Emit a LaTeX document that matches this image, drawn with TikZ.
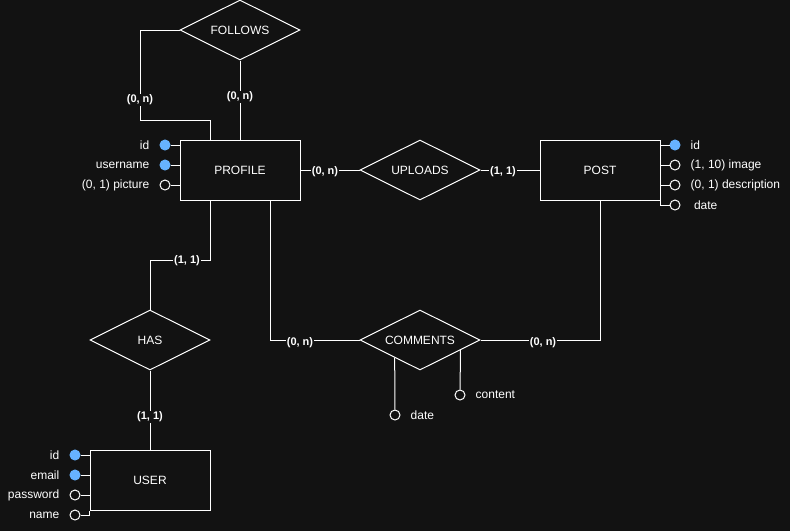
\documentclass[tikz,border=0pt]{standalone}
\usepackage{fontspec}
\setmainfont{Liberation Sans}
\usetikzlibrary{shapes.geometric,calc}
\definecolor{bg}{HTML}{121212}
\definecolor{fg}{HTML}{FFFFFF}
\definecolor{ln}{HTML}{FFFFFF}
\definecolor{pk}{HTML}{66B2FF}
\newcommand{\zw}[1]{\makebox[0pt]{#1}}
\begin{document}
\begin{tikzpicture}[x=1pt,y=-1pt,
  every node/.style={font=\fontsize{12}{14}\selectfont, text=fg},
  entity/.style={draw=ln, line width=1pt, fill=bg, minimum width=120pt, minimum height=60pt, inner sep=0pt},
  rel/.style={diamond, draw=ln, line width=1pt, fill=bg, minimum width=120pt, minimum height=60pt, inner sep=0pt},
  conn/.style={draw=ln, line width=1pt},
  card/.style={fill=bg, font=\bfseries\fontsize{11}{13}\selectfont, inner sep=1pt},
  key/.style={circle, fill=pk, draw=pk, line width=1pt, minimum size=10pt, inner sep=0pt},
  attr/.style={circle, fill=bg, draw=ln, line width=1pt, minimum size=10pt, inner sep=0pt},
  lt/.style={label={[label distance=10pt, inner sep=0pt]left:{#1}}},
  rt/.style={label={[label distance=10pt, inner sep=0pt]right:{#1}}}
]
\fill[bg] (0,0) rectangle (790,531);
\useasboundingbox (0,0) rectangle (790,531);

\coordinate (fk1) at (140,120);
\coordinate (hk1) at (150,260);

% entities and relations
\node[rel] (follows) at (240,30) {\zw{FOLLOWS}};
\node[entity] (profile) at (240,170) {PROFILE};
\node[rel] (uploads) at (420,170) {\zw{UPLOADS}};
\node[entity] (post) at (600,170) {POST};
\node[rel] (has) at (150,340) {\zw{HAS}};
\node[rel] (comments) at (420,340) {\zw{COMMENTS}};
\node[entity] (user) at (150,480) {USER};

% attributes
\node[key, lt=id] (p1) at (165,145) {};
\node[key, lt=username] (p2) at (165,165) {};
\node[attr, lt={(0, 1) picture}] (p3) at (165,185) {};

\node[key, rt=id] (q1) at (675,145) {};
\node[attr, rt={(1, 10) image}] (q2) at (675,165) {};
\node[attr, rt={(0, 1) description}] (q3) at (675,185) {};
\node[attr, rt={\ date}] (q4) at (675,205) {};

\node[key, lt=id] (u1) at (75,455) {};
\node[key, lt=email] (u2) at (75,475) {};
\node[attr, lt=password] (u3) at (75,495) {};
\node[attr, lt=name] (u4) at (75,515) {};

\node[attr, rt=date] (cdate) at (395,415) {};
\node[attr, rt=content] (ccont) at (460,395) {};

% attribute connectors
\draw[conn] (p1) -- (p1 -| profile.west);
\draw[conn] (p2) -- (p2 -| profile.west);
\draw[conn] (p3) -- (p3 -| profile.west);
\draw[conn] (q1) -- (q1 -| post.east);
\draw[conn] (q2) -- (q2 -| post.east);
\draw[conn] (q3) -- (q3 -| post.east);
\draw[conn] (q4) -| (post.south east);
\draw[conn] (u1) -- (u1 -| user.west);
\draw[conn] (u2) -- (u2 -| user.west);
\draw[conn] (u3) -- (u3 -| user.west);
\draw[conn] (u4) -| (user.south west);
\draw[conn] (comments.215) -- (cdate);
\draw[conn] (comments.346) -- (ccont);

% relation connectors
\draw[conn] (follows.west) -| (fk1) -| ([xshift=-30pt]profile.north);
\draw[conn] (follows.south) -- (profile.north);
\draw[conn] (profile.east) -- (uploads.west);
\draw[conn] (uploads.east) -- (post.west);
\draw[conn] ([xshift=-30pt]profile.south) |- (hk1) -- (has.north);
\draw[conn] (has.south) -- (user.north);
\draw[conn] ([xshift=30pt]profile.south) |- (comments.west);
\draw[conn] (post.south) |- (comments.east);

% cardinalities
\node[card] (c1) at (140,100) {(0, n)};
\node[card] (c2) at (240,97) {(0, n)};
\node[card] (c3) at (325,172) {(0, n)};
\node[card] (c4) at (503,172) {(1, 1)};
\node[card] (c5) at (187,261) {(1, 1)};
\node[card] (c6) at (150,417) {(1, 1)};
\node[card] (c7) at (300,343) {(0, n)};
\node[card] (c8) at (543,343) {(0, n)};
\end{tikzpicture}
\end{document}
